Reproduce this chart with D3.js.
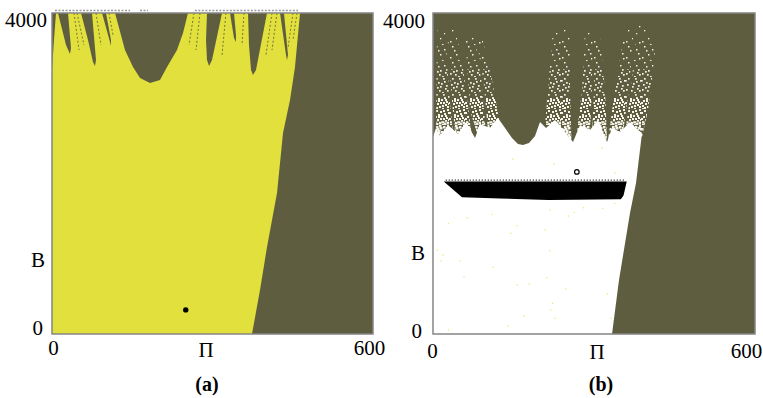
<!DOCTYPE html>
<html>
<head>
<meta charset="utf-8">
<script src="https://cdn.jsdelivr.net/npm/d3@7"></script>
<style>
  html, body { margin: 0; padding: 0; background: #fff; }
  svg { display: block; }
</style>
</head>
<body>
<div id="chart"></div>
<script>
// axes (same for both panels)
const piDomain = [0, 600];
const bDomain = [0, 4000];
const piTicks = [0, 600];
const bTicks = [0, 4000];
const piTitle = 'Π';
const bTitle = 'B';
const panelNames = ['(a)', '(b)'];

// panel (a): outline of the yellow basin as [Π, B]
const yellowBasinA = [
  [0, 0], [0, 3290], [3.7, 3664], [7.5, 4000], [11.2, 4000],
  [26.2, 3601], [33.6, 3489], [35.5, 3564], [29.9, 4000],
  [54.2, 4000], [67.3, 3664], [76.6, 3389], [80.4, 3340], [82.2, 3414], [74.8, 4000],
  [93.5, 4000], [108.4, 3639], [110.3, 3589], [110.3, 3664], [100.9, 4000],
  [117.8, 4000], [136.4, 3539], [151.4, 3327], [164.5, 3190], [183.2, 3128],
  [201.9, 3165], [215, 3327], [233.6, 3539], [244.9, 3751], [254.2, 4000],
  [289.7, 4000], [287.9, 3664], [289.7, 3414], [293.5, 3340], [299.1, 3414], [317.8, 4000],
  [332.7, 4000], [340.2, 3689], [343.9, 3639], [343.9, 3726], [340.2, 4000],
  [366.4, 4000], [368.2, 3601], [372, 3290], [375.7, 3227], [381.3, 3290], [401.9, 4000],
  [426.2, 4000], [437.4, 3477], [439.3, 3414], [441.1, 3477], [433.6, 4000],
  [463.6, 4000], [454.2, 3327], [444.9, 2916], [431.8, 2505], [420.6, 1757],
  [401.9, 1084], [388.8, 548], [373.8, 0]
];
// dotted streaks inside the yellow strands: [Π at top, Π at end, B at end]
const strandLinesA = [
  [41.1, 50.5, 3539], [46.7, 59.8, 3601], [82.2, 91.6, 3601], [106.5, 114, 3726],
  [265.4, 256.1, 3601], [276.6, 269.2, 3539], [325.2, 317.8, 3477], [358.9, 355.1, 3601],
  [411.2, 400, 3477], [420.6, 411.2, 3539], [450.5, 441.1, 3564], [458, 450.5, 3664]
];
// grey dashes just above the top edge: [Π from, Π to]
const topDashesA = [[5.6, 146], [164.5, 179.4], [267, 460]];
const attractorA = [250, 300];

// panel (b): outline of the white basin as [Π, B]
const whiteBasinB = [
  [0, 0], [0, 2455], [5.6, 2567], [13, 2467], [28, 2604], [46.6, 2492], [61.5, 2642],
  [78.3, 2442], [87.6, 2617], [106.2, 2567], [121.1, 2692], [134.2, 2567], [147.2, 2442],
  [158.4, 2368], [167.7, 2355], [178.9, 2380], [190.1, 2467], [199.4, 2642], [210.6, 2567],
  [227.3, 2667], [246, 2517], [260.9, 2393], [273.9, 2604], [292.6, 2542], [307.5, 2667],
  [324.2, 2393], [333.6, 2567], [348.5, 2517], [367.1, 2642], [382, 2542], [389.5, 2505],
  [378.3, 1882], [367.1, 1508], [346.6, 673], [333.6, 0]
];
// speckled streaks above the basin
const speckleCloudsB = [
  [[7.5, 3851], [22, 3851], [30, 3000], [38, 2455], [5.6, 2455]],
  [[26, 3800], [41, 3800], [54, 3415], [72.7, 2455], [42, 2455], [34, 3000]],
  [[59.6, 3763], [76, 3763], [90, 3165], [98, 2560], [83.9, 2455], [68.9, 2791]],
  [[80, 3700], [91.3, 3700], [109.9, 3165], [124.8, 2604], [102, 2560], [94, 3165]],
  [[223.6, 3788], [255.3, 3788], [255.3, 3040], [258, 2418], [208.7, 2604], [214.3, 3040]],
  [[283.2, 3788], [298, 3788], [296, 3040], [292, 2440], [267, 2440], [277.7, 3040]],
  [[300, 3700], [311.2, 3700], [320.5, 3040], [324.2, 2418], [296, 2440], [300, 3040]],
  [[357.8, 3851], [375, 3851], [365, 3040], [352, 2418], [326.1, 2418], [339.1, 3040]],
  [[380, 3851], [400.6, 3851], [413.7, 3477], [400.6, 2791], [389.5, 2455], [356, 2418], [369, 3040]]
];
// speckle texture by height: [B from, B to, dots per tile, dot size]
const speckleBandsB = [
  [3650, 3900, 4, 1.3], [3300, 3650, 8, 1.5], [2950, 3300, 16, 1.7],
  [2650, 2950, 26, 2], [2300, 2650, 32, 2.5]
];
const blackBandB = [[20, 1900], [361, 1900], [355, 1725], [350, 1680], [215, 1670], [125, 1690], [54, 1705]];
const attractorB = [268, 2020];
const yellowSpecksB = [
  [28.5, 1379], [63.9, 1449], [110.5, 1491], [155.9, 1350], [145.3, 1255], [208.7, 1296],
  [218, 1545], [252.2, 1470], [263.3, 1516], [280, 1574], [316.2, 1566], [339, 1628],
  [8, 1047], [19.2, 984], [14.9, 910], [50.3, 910], [57.8, 714], [112.4, 831], [218, 1038],
  [211.8, 702], [157.1, 611], [178.9, 623], [247.3, 561], [324.8, 498], [223, 383],
  [219.3, 299], [227.3, 196], [169.6, 228], [140.3, 100], [28.5, 50], [331.7, 196],
  [149, 2181], [225.5, 2118], [339, 2006], [315, 2318]
];

const W = 763, H = 398;
const OLIVE = '#5e5d40';
const YELLOW = '#e1e03d';
const FONT = '"Liberation Serif", "Times New Roman", serif';

const panels = [
  { left: 52, top: 13, width: 321, height: 321,
    xPad: 6, xEndShift: -4, xStartShift: 1,
    yTopPad: 5, yTopDy: 13, y0Pad: 9, y0Dy: 0,
    piX: 206, piY: 357, bX: -7, bY: 267, nameX: 207 },
  { left: 433, top: 13, width: 322, height: 321,
    xPad: 9, xEndShift: -9, xStartShift: -1,
    yTopPad: 8, yTopDy: 14, y0Pad: 11, y0Dy: 3,
    piX: 597, piY: 359, bX: -8, bY: 260, nameX: 601 }
];

const svg = d3.select('#chart').append('svg')
  .attr('width', W)
  .attr('height', H);

svg.append('rect').attr('width', W).attr('height', H).attr('fill', '#fff');

// speckle texture: irregular dot spots in a 16px tile, denser patterns use more of them
const defs = svg.append('defs');
const speckSpots = [
  [3, 1], [11, 4], [7, 9], [14, 13], [1, 12], [9, 15], [5, 5], [13, 8],
  [2, 7], [10, 1], [6, 13], [15, 3], [8, 6], [0, 3], [12, 11], [4, 10],
  [1, 15], [14, 0], [7, 2], [10, 9], [3, 14], [12, 6], [5, 7], [9, 12],
  [0, 9], [15, 10], [6, 0], [11, 14], [2, 4], [13, 2], [8, 11], [4, 3]
];
speckleBandsB.forEach((b, i) => {
  const pat = defs.append('pattern')
    .attr('id', 'speck-' + i)
    .attr('patternUnits', 'userSpaceOnUse')
    .attr('width', 16)
    .attr('height', 16);
  pat.selectAll('rect').data(speckSpots.slice(0, b[2])).enter().append('rect')
    .attr('x', d => d[0]).attr('y', d => d[1])
    .attr('width', b[3]).attr('height', b[3])
    .attr('fill', '#f4f4ea');
});

function setupPanel(p) {
  const g = svg.append('g').attr('transform', `translate(${p.left},${p.top})`);
  const x = d3.scaleLinear().domain(piDomain).range([0, p.width]);
  const y = d3.scaleLinear().domain(bDomain).range([p.height, 0]);
  g.append('rect')
    .attr('width', p.width)
    .attr('height', p.height)
    .attr('fill', OLIVE);
  const line = d3.line().x(d => x(d[0])).y(d => y(d[1]));
  return { g, x, y, line };
}

function drawAxes(p, i, g, x, y) {
  // frame
  g.append('rect')
    .attr('width', p.width)
    .attr('height', p.height)
    .attr('fill', 'none')
    .attr('stroke', '#858585')
    .attr('stroke-width', 1.5);

  const xa = g.append('g')
    .attr('transform', `translate(0,${p.height})`)
    .call(d3.axisBottom(x).tickValues(piTicks).tickSize(0).tickPadding(p.xPad).tickFormat(d3.format('d')));
  xa.select('.domain').remove();
  xa.selectAll('text')
    .attr('font-family', FONT)
    .attr('font-size', 21)
    .attr('fill', '#000')
    .attr('dx', d => d === piDomain[1] ? p.xEndShift : p.xStartShift);

  const ya = g.append('g')
    .call(d3.axisLeft(y).tickValues(bTicks).tickSize(0).tickFormat(d3.format('d')));
  ya.select('.domain').remove();
  ya.selectAll('text')
    .attr('font-family', FONT)
    .attr('font-size', 21)
    .attr('fill', '#000')
    .attr('x', d => d === 0 ? -p.y0Pad : -p.yTopPad)
    .attr('dy', d => d === 0 ? p.y0Dy : p.yTopDy);

  // axis titles
  svg.append('text')
    .attr('x', p.piX).attr('y', p.piY)
    .attr('text-anchor', 'middle')
    .attr('font-family', FONT).attr('font-size', 21)
    .text(piTitle);
  svg.append('text')
    .attr('x', p.left + p.bX).attr('y', p.bY)
    .attr('text-anchor', 'end')
    .attr('font-family', FONT).attr('font-size', 21)
    .text(bTitle);

  // panel name
  svg.append('text')
    .attr('x', p.nameX).attr('y', 391)
    .attr('text-anchor', 'middle')
    .attr('font-family', FONT).attr('font-size', 20)
    .attr('font-weight', 'bold')
    .text(panelNames[i]);
}

// ---- panel (a)
{
  const p = panels[0];
  const { g, x, y, line } = setupPanel(p);

  g.append('path')
    .attr('d', line(yellowBasinA) + 'Z')
    .attr('fill', YELLOW);

  g.selectAll('.strand')
    .data(strandLinesA)
    .enter()
    .append('line')
    .attr('class', 'strand')
    .attr('x1', d => x(d[0])).attr('y1', y(bDomain[1]))
    .attr('x2', d => x(d[1])).attr('y2', d => y(d[2]))
    .attr('stroke', '#77753c')
    .attr('stroke-width', 1)
    .attr('stroke-dasharray', '2,2');

  g.selectAll('.top-dash')
    .data(topDashesA)
    .enter()
    .append('line')
    .attr('class', 'top-dash')
    .attr('x1', d => x(d[0])).attr('x2', d => x(d[1]))
    .attr('y1', y(bDomain[1]) - 2.5).attr('y2', y(bDomain[1]) - 2.5)
    .attr('stroke', '#9a9a9a')
    .attr('stroke-width', 1.5)
    .attr('stroke-dasharray', '2,1.5');

  g.append('circle')
    .attr('cx', x(attractorA[0]))
    .attr('cy', y(attractorA[1]))
    .attr('r', 2.7)
    .attr('fill', '#000');

  drawAxes(p, 0, g, x, y);
}

// ---- panel (b)
{
  const p = panels[1];
  const { g, x, y, line } = setupPanel(p);

  const clip = defs.append('clipPath').attr('id', 'clouds-b');
  clip.selectAll('path')
    .data(speckleCloudsB)
    .enter()
    .append('path')
    .attr('d', d => line(d) + 'Z');

  g.append('g')
    .attr('clip-path', 'url(#clouds-b)')
    .selectAll('rect')
    .data(speckleBandsB)
    .enter()
    .append('rect')
    .attr('x', 0)
    .attr('width', p.width)
    .attr('y', d => y(d[1]))
    .attr('height', d => y(d[0]) - y(d[1]))
    .attr('fill', (d, i) => `url(#speck-${i})`);

  g.append('path')
    .attr('d', line(whiteBasinB) + 'Z')
    .attr('fill', '#fff');

  g.append('path')
    .attr('d', line(blackBandB) + 'Z')
    .attr('fill', '#000');

  // ragged top of the band
  g.append('line')
    .attr('x1', x(blackBandB[0][0]) + 2).attr('x2', x(blackBandB[1][0]) - 1)
    .attr('y1', y(blackBandB[0][1]) - 1.5).attr('y2', y(blackBandB[1][1]) - 1.5)
    .attr('stroke', '#000')
    .attr('stroke-width', 1.2)
    .attr('stroke-dasharray', '1,2');

  g.selectAll('.speck')
    .data(yellowSpecksB)
    .enter()
    .append('circle')
    .attr('class', 'speck')
    .attr('cx', d => x(d[0]))
    .attr('cy', d => y(d[1]))
    .attr('r', 0.7)
    .attr('fill', '#e6e66a');

  g.append('circle')
    .attr('cx', x(attractorB[0]))
    .attr('cy', y(attractorB[1]))
    .attr('r', 2.3)
    .attr('fill', '#fff')
    .attr('stroke', '#000')
    .attr('stroke-width', 1.2);

  drawAxes(p, 1, g, x, y);
}
</script>
</body>
</html>
